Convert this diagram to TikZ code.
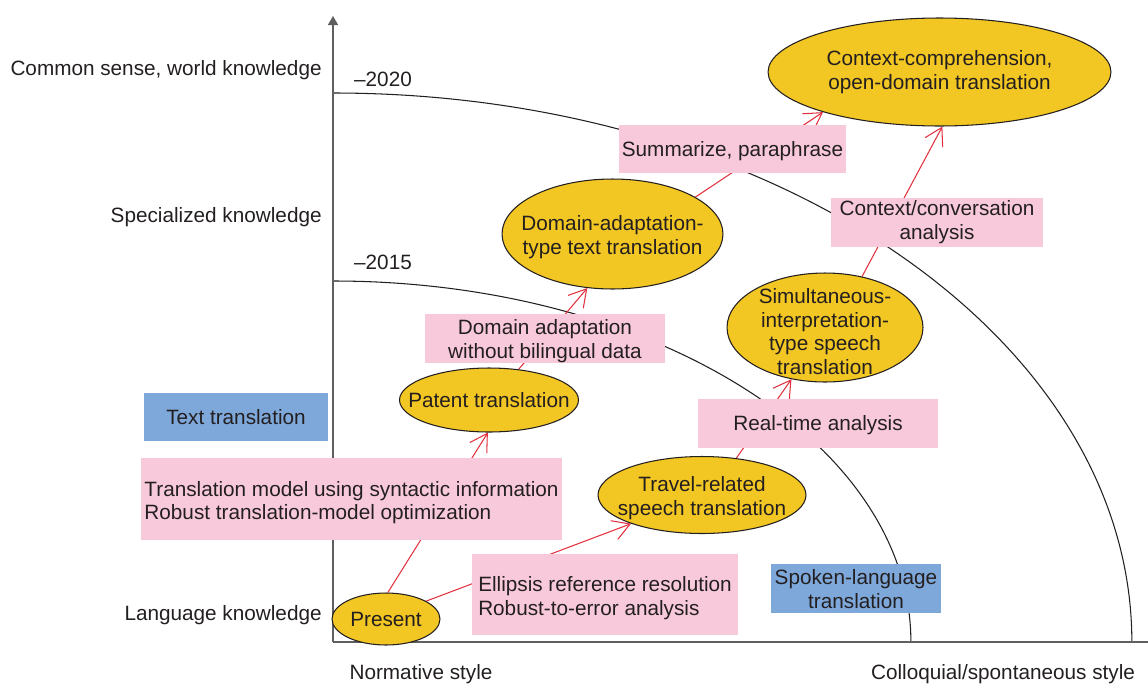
\documentclass[tikz,border=0pt]{standalone}
\usepackage{fontspec}
\setmainfont{Liberation Sans}
\usetikzlibrary{shapes.geometric,arrows.meta,backgrounds}

\definecolor{blobyellow}{RGB}{242,198,35}
\definecolor{notepink}{RGB}{248,201,218}
\definecolor{tagblue}{RGB}{126,168,218}
\definecolor{hopred}{RGB}{226,50,64}
\definecolor{axisgray}{RGB}{95,95,95}
\definecolor{inkdark}{RGB}{35,31,32}

\tikzset{
  every node/.style={execute at begin node={\rule{0pt}{10.9pt}},execute at end node={\rule[-2.5pt]{0pt}{0pt}}},
  blob/.style={ellipse,draw=inkdark,line width=0.6pt,fill=blobyellow,inner sep=-1cm,align=center,text=inkdark},
  note/.style={rectangle,fill=notepink,inner sep=0pt,align=center,text=inkdark},
  tag/.style={rectangle,fill=tagblue,inner sep=0pt,align=center,text=inkdark},
  lvl/.style={anchor=east,inner sep=0pt,text=inkdark},
  hop/.style={draw=hopred,line width=0.6pt,-{Straight Barb[length=3.4mm,width=4mm]}},
  era/.style={draw=inkdark,line width=0.6pt},
}

\begin{document}
\begin{tikzpicture}[x=0.02cm,y=-0.02cm,font=\fontsize{11.8}{13.5}\selectfont]
\useasboundingbox (0,0) rectangle (1148,683);

% axes
\coordinate (origin) at (333,642);
\draw [axisgray,line width=0.85pt,-{Triangle[length=1.8mm,width=2mm]}] (origin) -- (333,16);
\draw [axisgray,line width=0.85pt] (origin) -- (1148,642);

\node [lvl] (common) at (322,68) {Common sense, world knowledge};
\node [lvl] (special) at (322,215) {Specialized knowledge};
\node [lvl] (lang) at (322,613) {Language knowledge};
\node [text=inkdark] (normative) at (421,672) {Normative style};
\node [text=inkdark] (colloquial) at (1003,672) {Colloquial/spontaneous style};
\node [text=inkdark] (y2020) at (383,79) {--2020};
\node [text=inkdark] (y2015) at (383,262) {--2015};

% pink and blue boxes
\node [note,align=left,minimum width=8.42cm,minimum height=1.64cm] (syntax) at (351.5,499)
  {\rule{0pt}{12.8pt}Translation model using syntactic information\\Robust translation-model optimization};
\node [note,align=left,minimum width=5.32cm,minimum height=1.62cm] (ellipsis) at (605,594.5)
  {\rule{0pt}{12.8pt}Ellipsis reference resolution\\Robust-to-error analysis};
\node [note,minimum width=4.8cm,minimum height=0.98cm] (adapt) at (545,338.5)
  {\rule{0pt}{11.8pt}Domain adaptation\\without bilingual data};
\node [note,minimum width=4.54cm,minimum height=0.96cm] (summ) at (732.5,149) {Summarize, paraphrase};
\node [note,minimum width=4.24cm,minimum height=0.98cm] (conv) at (937,222.5)
  {Context/conversation\\analysis};
\node [note,minimum width=4.8cm,minimum height=0.98cm] (realtime) at (818,423.5) {Real-time analysis};
\node [tag,minimum width=3.68cm,minimum height=0.96cm] (texttr) at (236,417) {Text translation};
\node [tag,minimum width=3.4cm,minimum height=0.98cm] (spoken) at (856,588.5)
  {\rule{0pt}{11.8pt}Spoken-language\\translation};

% ellipses
\node [blob,minimum width=2.16cm,minimum height=1.04cm] (present) at (386,619) {Present};
\node [blob,minimum width=3.58cm,minimum height=1.28cm] (patent) at (489,400) {Patent translation};
\node [blob,minimum width=4.42cm,minimum height=2.2cm] (domain) at (612.5,234)
  {\rule{0pt}{11.8pt}Domain-adaptation-\\type text translation};
\node [blob,minimum width=6.86cm,minimum height=2.16cm] (context) at (939.5,72)
  {Context-comprehension,\\open-domain translation};
\node [blob,minimum width=4.16cm,minimum height=1.54cm] (travel) at (702,495)
  {\rule{0pt}{11.8pt}Travel-related\\speech translation};
\node [blob,minimum width=3.92cm,minimum height=2.18cm] (simult) at (825,327.5)
  {\rule{0pt}{15.5pt}Simultaneous-\\interpretation-\\type speech\\translation};

\begin{scope}[on background layer]
% era boundaries
\draw [era] (333,93) arc [start angle=90,end angle=0,x radius=15.98cm,y radius=10.98cm];
\draw [era] (333,281) arc [start angle=90,end angle=0,x radius=11.56cm,y radius=7.22cm];
% development steps
\draw [hop] (present.86) -- (patent.-92);
\draw [hop] (present.24) -- (travel.-158);
\draw [hop] (patent.46) -- (domain.-115);
\draw [hop] (travel.47) -- (simult.-123);
\draw [hop] (domain.24) -- (context.-161);
\draw [hop] (simult.54) -- (context.-87);
\end{scope}
\end{tikzpicture}
\end{document}
